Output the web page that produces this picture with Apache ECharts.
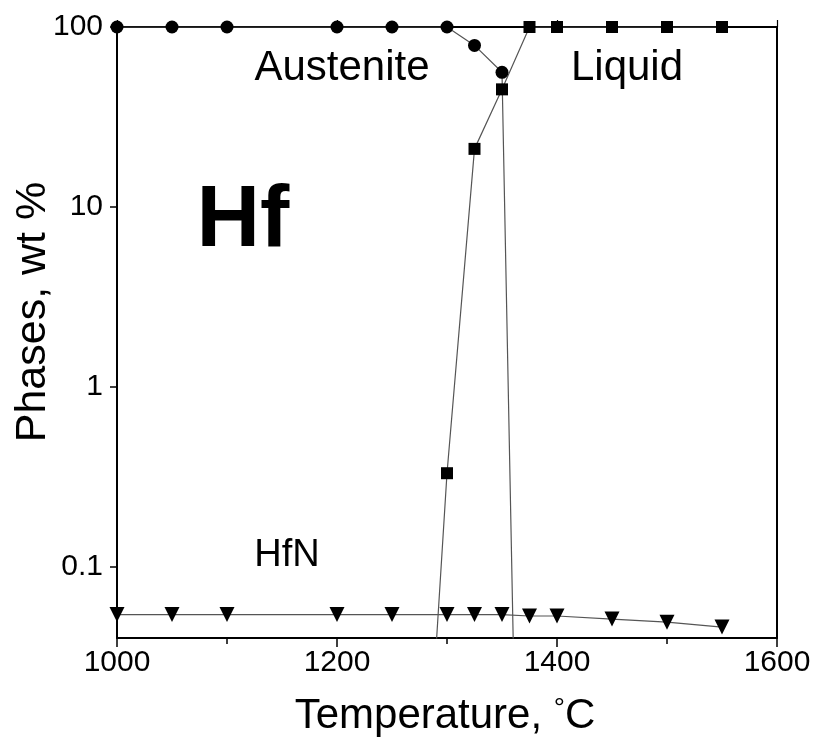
<!DOCTYPE html>
<html>
<head>
<meta charset="utf-8">
<script src="https://cdn.jsdelivr.net/npm/echarts@6/dist/echarts.min.js"></script>
<style>
html,body{margin:0;padding:0;background:#fff;}
#chart{width:814px;height:752px;}
</style>
</head>
<body>
<div id="chart"></div>
<script>
// ---- data (temperature in °C, phase fraction in wt %) ----
var austeniteT = [1000, 1050, 1100, 1200, 1250, 1300, 1325, 1350, 1375];
var austeniteV = [100, 100, 100, 100, 100, 100, 79, 56, 0.000001];

var liquidT = [1275, 1300, 1325, 1350, 1375, 1400, 1450, 1500, 1550];
var liquidV = [0.0012, 0.33, 21, 45, 100, 100, 100, 100, 100];

var hfnT = [1000, 1050, 1100, 1200, 1250, 1300, 1325, 1350, 1375, 1400, 1450, 1500, 1550];
var hfnV = [0.054, 0.054, 0.054, 0.054, 0.054, 0.054, 0.054, 0.054, 0.053, 0.053, 0.051, 0.049, 0.046];

var yTickValues = [0.1, 1, 10, 100];
var xLabelValues = [1000, 1200, 1400, 1600];

function pairs(xs, ys) { return xs.map(function (x, i) { return [x, ys[i]]; }); }

var FONT = "'Liberation Sans', Arial, sans-serif";
var chart = echarts.init(document.getElementById('chart'), null, { renderer: 'canvas' });

var lineStyle = { color: '#555', width: 1.2 };

var option = {
  backgroundColor: '#fff',
  animation: false,
  grid: { left: 117, right: 37, top: 27, bottom: 114, containLabel: false },
  xAxis: [
    {
      type: 'value', min: 1000, max: 1600, interval: 200, position: 'bottom',
      axisLine: { show: true, lineStyle: { color: '#000', width: 2 } },
      axisTick: { show: true, length: 9, inside: false, lineStyle: { color: '#000', width: 1.5 } },
      minorTick: { show: true, splitNumber: 2, length: 6, lineStyle: { color: '#000', width: 1.5 } },
      axisLabel: { customValues: xLabelValues, fontSize: 30, color: '#000', fontFamily: FONT, margin: 10,
        formatter: function (v) { return String(v); } },
      splitLine: { show: false }, minorSplitLine: { show: false }
    },
    {
      type: 'value', min: 1000, max: 1600, interval: 200, position: 'top',
      axisLine: { show: true, lineStyle: { color: '#000', width: 2 } },
      axisTick: { show: true, length: 7, inside: false, lineStyle: { color: '#000', width: 1.2 } },
      minorTick: { show: true, splitNumber: 2, length: 5, lineStyle: { color: '#000', width: 1.2 } },
      axisLabel: { show: false },
      splitLine: { show: false }
    }
  ],
  yAxis: [
    {
      type: 'log', logBase: 10, min: 0.04, max: 100, position: 'left',
      axisLine: { show: true, lineStyle: { color: '#000', width: 2 } },
      axisTick: { show: true, customValues: yTickValues, length: 7, inside: false, lineStyle: { color: '#000', width: 1.5 } },
      axisLabel: {
        customValues: yTickValues, fontSize: 30, color: '#000', fontFamily: FONT, margin: 14,
        formatter: function (v) { return String(v); }
      },
      splitLine: { show: false }
    },
    {
      type: 'log', logBase: 10, min: 0.04, max: 100, position: 'right',
      axisLine: { show: true, lineStyle: { color: '#000', width: 2 } },
      axisTick: { show: false },
      axisLabel: { show: false },
      splitLine: { show: false }
    }
  ],
  series: [
    {
      name: 'Austenite', type: 'line', xAxisIndex: 0, yAxisIndex: 0, clip: true,
      data: pairs(austeniteT, austeniteV),
      symbol: 'circle', symbolSize: 13,
      itemStyle: { color: '#000' }, lineStyle: lineStyle
    },
    {
      name: 'Liquid', type: 'line', xAxisIndex: 0, yAxisIndex: 0, clip: true,
      data: pairs(liquidT, liquidV),
      symbol: 'rect', symbolSize: 12,
      itemStyle: { color: '#000' }, lineStyle: lineStyle
    },
    {
      name: 'HfN', type: 'line', xAxisIndex: 0, yAxisIndex: 0, clip: true,
      data: pairs(hfnT, hfnV),
      symbol: 'triangle', symbolRotate: 180, symbolSize: 15,
      itemStyle: { color: '#000' }, lineStyle: lineStyle
    }
  ],
  graphic: [
    { type: 'text', x: 342, y: 68, style: { text: 'Austenite', fontSize: 42, fontFamily: FONT, fill: '#000', align: 'center', verticalAlign: 'middle' } },
    { type: 'text', x: 627, y: 68, style: { text: 'Liquid', fontSize: 42, fontFamily: FONT, fill: '#000', align: 'center', verticalAlign: 'middle' } },
    { type: 'text', x: 243, y: 222, style: { text: 'Hf', fontSize: 88, fontWeight: 'bold', fontFamily: FONT, fill: '#000', align: 'center', verticalAlign: 'middle' } },
    { type: 'text', x: 287, y: 556, style: { text: 'HfN', fontSize: 38, fontFamily: FONT, fill: '#000', align: 'center', verticalAlign: 'middle' } },
    { type: 'text', x: 33, y: 312, rotation: Math.PI / 2, style: { text: 'Phases, wt %', fontSize: 43, fontFamily: FONT, fill: '#000', align: 'center', verticalAlign: 'middle' } },
    {
      type: 'text', x: 445, y: 716,
      style: {
        text: 'Temperature, {sup|°}C', fontSize: 42, fontFamily: FONT, fill: '#000', align: 'center', verticalAlign: 'middle',
        rich: { sup: { fontSize: 28, fontFamily: FONT, verticalAlign: 'top', padding: [0, 0, 14, 0] } }
      }
    }
  ]
};
chart.setOption(option);
</script>
</body>
</html>
